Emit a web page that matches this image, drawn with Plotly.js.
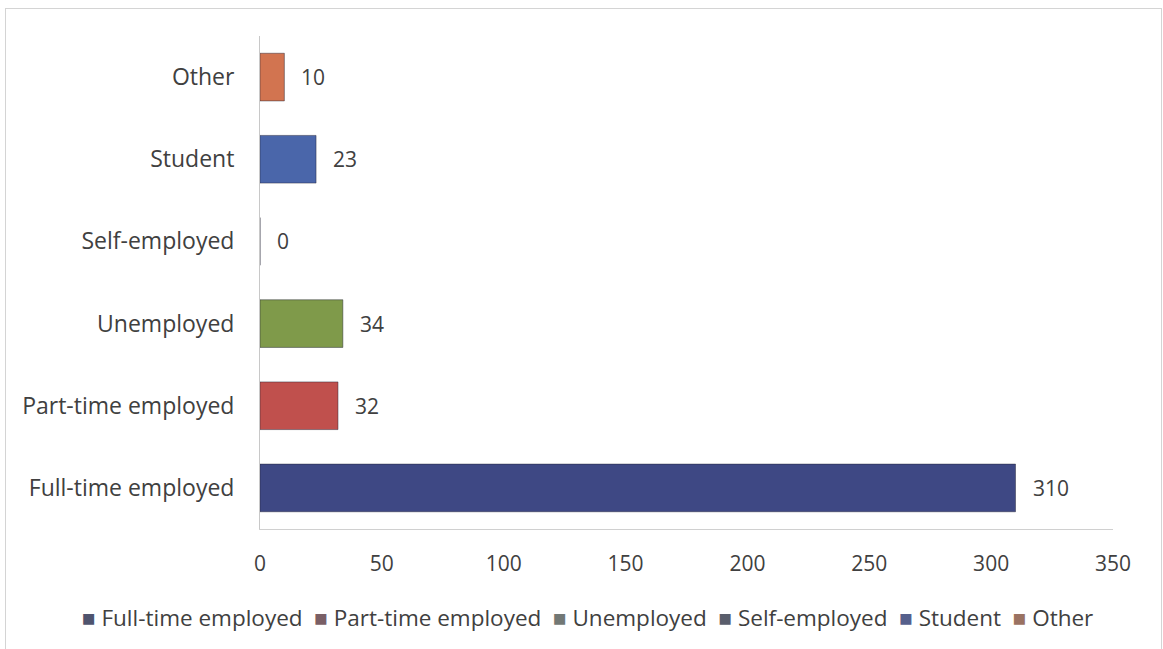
<!DOCTYPE html>
<html><head><meta charset="utf-8">
<script src="https://cdn.plot.ly/plotly-3.0.1.min.js"></script>
<style>
html,body{margin:0;padding:0;background:#fff;}
#frame{position:absolute;left:5px;top:8px;width:1157px;height:660px;border:1px solid #d4d4d4;box-sizing:border-box;}
#chart{position:absolute;left:0;top:0;width:1163px;height:649px;}
</style></head><body>
<div id="frame"></div>
<div id="chart"></div>
<script>
const categories = ["Full-time employed","Part-time employed","Unemployed","Self-employed","Student","Other"];
const values = [310, 32, 34, 0, 23, 10];
const barColors = ["#3e4884","#c0504d","#7f9a4a","#4a5070","#4a66aa","#d27450"];
const legendColors = ["#4f546e","#7a5f66","#727875","#5a5e6c","#56608c","#9a7262"];
const xTicks = [0,50,100,150,200,250,300,350];

const font = "'Open Sans', sans-serif";
const textColor = "#404040";
const numSize = 21;
const catSize = 23;
const legSize = 22.5;

const traces = categories.map((c,i)=>({
  type:'bar', orientation:'h', name:c,
  x:[values[i]], y:[c],
  marker:{color:barColors[i], line:{color:'rgba(30,30,50,0.45)', width:1}},
  width:0.58, showlegend:false, hoverinfo:'skip'
}));

const annotations = categories.map((c,i)=>({
  x:values[i], y:c, xref:'x', yref:'y', text:String(values[i]),
  showarrow:false, xanchor:'left', xshift:15,
  font:{family:font, size:numSize, color:textColor}
}));

const legendText = categories.map((c,i)=>
  "<span style='color:"+legendColors[i]+"'>■</span> "+c).join("  ");
annotations.push({
  xref:'paper', yref:'paper', x:(587-260)/853, y:-88/493, xanchor:'center', yanchor:'middle',
  text:legendText, showarrow:false, font:{family:font, size:legSize, color:textColor}
});

const layout = {
  width:1163, height:649,
  margin:{l:260, r:50, t:36, b:120},
  paper_bgcolor:'rgba(0,0,0,0)', plot_bgcolor:'rgba(0,0,0,0)',
  barmode:'overlay', showlegend:false,
  font:{family:font, size:numSize, color:textColor},
  xaxis:{range:[0,350], tickvals:xTicks, ticktext:xTicks.map(String),
    showgrid:false, zeroline:false, showline:true, linecolor:'#d0d0d0', linewidth:1,
    ticks:'', ticklabelstandoff:16, tickfont:{family:font, size:numSize, color:textColor}, fixedrange:true},
  yaxis:{categoryorder:'array', categoryarray:categories, showgrid:false, zeroline:false,
    showline:true, linecolor:'#c8c8c8', linewidth:1, ticks:'', ticklabelstandoff:20,
    tickfont:{family:font, size:catSize, color:textColor}, fixedrange:true},
  annotations:annotations
};
Plotly.newPlot('chart', traces, layout, {displayModeBar:false, staticPlot:true});
</script></body></html>
